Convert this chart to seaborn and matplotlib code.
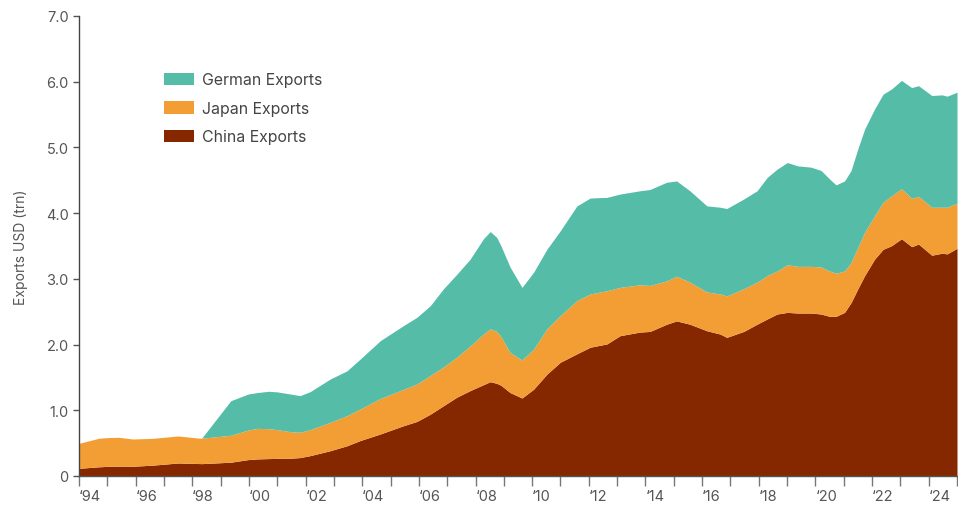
import matplotlib
matplotlib.use("Agg")
import matplotlib.pyplot as plt
import seaborn as sns
import numpy as np

# Time axis in decimal years
years = [
    1994.00, 1994.70, 1995.04, 1995.40, 1995.90, 1996.60, 1997.50, 1998.20,
    1998.33, 1999.36, 1999.98, 2000.30, 2000.70, 2001.00, 2001.46, 2001.80,
    2002.16, 2002.87, 2003.46, 2003.93, 2004.64, 2005.46, 2005.93, 2006.40,
    2006.87, 2007.34, 2007.81, 2008.28, 2008.52, 2008.75, 2008.90, 2009.22,
    2009.64, 2010.05, 2010.52, 2010.99, 2011.58, 2012.05, 2012.64, 2013.10,
    2013.80, 2014.16, 2014.75, 2015.10, 2015.57, 2016.17, 2016.64, 2016.87,
    2017.47, 2017.94, 2018.30, 2018.65, 2019.01, 2019.37, 2019.84, 2020.20,
    2020.50, 2020.73, 2021.03, 2021.26, 2021.50, 2021.74, 2022.09, 2022.39,
    2022.69, 2023.04, 2023.40, 2023.64, 2024.11, 2024.47, 2024.65, 2025.00,
]

# Exports, USD trillions
china_exports = [
    0.117, 0.140, 0.147, 0.150, 0.148, 0.165, 0.198, 0.190,
    0.188, 0.210, 0.250, 0.260, 0.265, 0.268, 0.270, 0.280,
    0.310, 0.385, 0.460, 0.540, 0.640, 0.766, 0.830, 0.940,
    1.070, 1.200, 1.300, 1.390, 1.435, 1.410, 1.380, 1.270,
    1.187, 1.320, 1.550, 1.730, 1.860, 1.960, 2.010, 2.135,
    2.190, 2.200, 2.310, 2.360, 2.310, 2.210, 2.160, 2.110,
    2.200, 2.310, 2.390, 2.465, 2.490, 2.480, 2.480, 2.465,
    2.430, 2.430, 2.490, 2.640, 2.850, 3.050, 3.300, 3.450,
    3.505, 3.610, 3.490, 3.530, 3.360, 3.390, 3.380, 3.465,
]
japan_exports = [
    0.380, 0.434, 0.438, 0.439, 0.415, 0.408, 0.411, 0.388,
    0.387, 0.410, 0.450, 0.465, 0.455, 0.437, 0.405, 0.385,
    0.395, 0.432, 0.458, 0.480, 0.540, 0.554, 0.570, 0.590,
    0.590, 0.610, 0.680, 0.770, 0.805, 0.790, 0.740, 0.610,
    0.578, 0.610, 0.690, 0.710, 0.810, 0.810, 0.810, 0.735,
    0.720, 0.700, 0.660, 0.680, 0.640, 0.590, 0.610, 0.630,
    0.650, 0.640, 0.660, 0.655, 0.725, 0.710, 0.710, 0.715,
    0.690, 0.655, 0.630, 0.610, 0.630, 0.660, 0.660, 0.715,
    0.760, 0.760, 0.735, 0.725, 0.730, 0.700, 0.710, 0.685,
]
german_exports = [
    0.000, 0.000, 0.000, 0.000, 0.000, 0.000, 0.000, 0.000,
    0.000, 0.526, 0.548, 0.545, 0.569, 0.575, 0.573, 0.557,
    0.578, 0.659, 0.682, 0.760, 0.880, 0.970, 1.015, 1.060,
    1.190, 1.260, 1.320, 1.450, 1.480, 1.430, 1.380, 1.300,
    1.105, 1.170, 1.210, 1.290, 1.440, 1.460, 1.420, 1.420,
    1.430, 1.460, 1.500, 1.450, 1.390, 1.310, 1.320, 1.330,
    1.365, 1.390, 1.495, 1.550, 1.555, 1.530, 1.510, 1.470,
    1.400, 1.345, 1.370, 1.400, 1.500, 1.570, 1.625, 1.645,
    1.625, 1.650, 1.685, 1.685, 1.700, 1.710, 1.690, 1.690,
]

series_labels = ["China Exports", "Japan Exports", "German Exports"]
series_colors = ["#852800", "#F39E35", "#55BCA8"]

tick_years = list(range(1994, 2026))
tick_labels = [f"\u2018{y % 100:02d}" if y % 2 == 0 else "" for y in tick_years]
y_ticks = [0, 1, 2, 3, 4, 5, 6, 7]
y_tick_labels = ["0", "1.0", "2.0", "3.0", "4.0", "5.0", "6.0", "7.0"]

sns.set_theme(style="ticks")
plt.rcParams["font.family"] = ["Inter", "DejaVu Sans"]

fig = plt.figure(figsize=(9.58, 5.06), dpi=100)
ax = fig.add_axes([79 / 958, 29 / 506, 878 / 958, 460 / 506])

ax.stackplot(
    years, china_exports, japan_exports, german_exports,
    colors=series_colors, labels=series_labels, linewidth=0,
)

ax.set_xlim(1994, 2025)
ax.set_ylim(0, 7)

ax.set_xticks(tick_years)
ax.set_xticklabels(tick_labels)
for lbl in ax.get_xticklabels():
    lbl.set_horizontalalignment("left")
ax.set_yticks(y_ticks)
ax.set_yticklabels(y_tick_labels)

ax.tick_params(axis="x", length=7.5, width=1, color="#777777", pad=2,
               labelsize=10.5, labelcolor="#555555")
ax.tick_params(axis="y", length=4.5, width=1, color="#555555", pad=3,
               labelsize=10.5, labelcolor="#555555")

for side in ("top", "right"):
    ax.spines[side].set_visible(False)
ax.spines["left"].set_color("#444444")
ax.spines["bottom"].set_color("#555555")
ax.spines["left"].set_linewidth(1)
ax.spines["bottom"].set_linewidth(1)

ax.set_ylabel("Exports USD (trn)", fontsize=10, color="#555555")
ax.yaxis.set_label_coords(-0.058, 0.5)

handles, labels = ax.get_legend_handles_labels()
ax.legend(
    handles[::-1], labels[::-1],
    loc="upper left", bbox_to_anchor=(0.0895, 0.891),
    frameon=False, fontsize=11.4, labelcolor="#444444",
    handlelength=1.9, handleheight=0.85, handletextpad=0.5,
    labelspacing=0.85, borderaxespad=0,
)

fig.savefig("out.png", dpi=100, facecolor="white")
